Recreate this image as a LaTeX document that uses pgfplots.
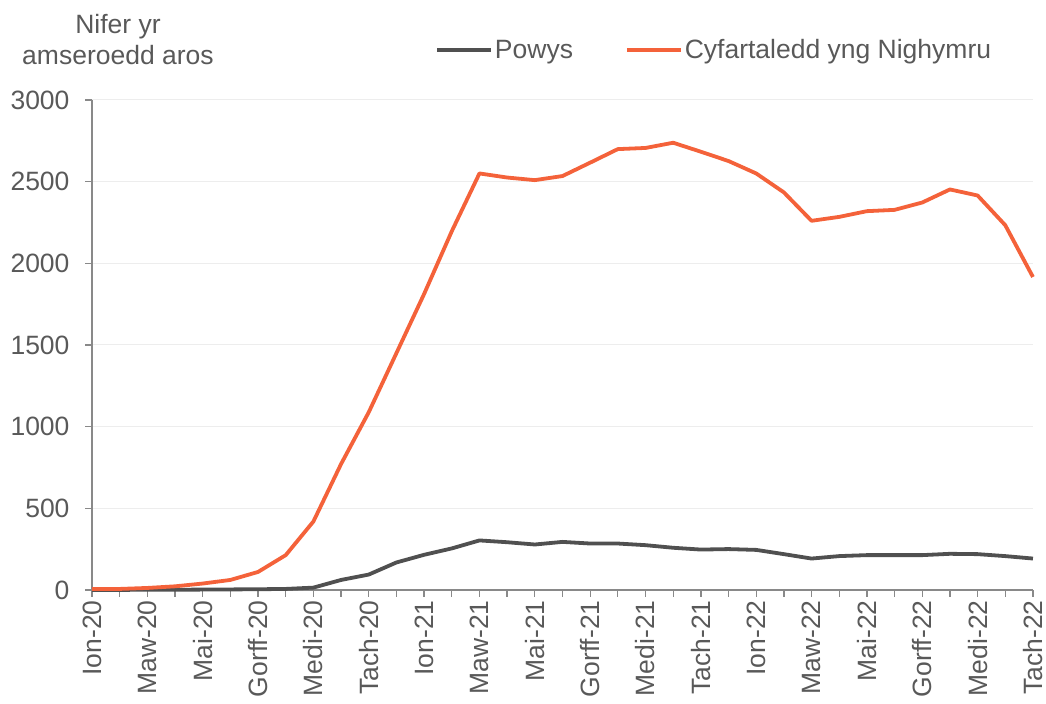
\documentclass[border=0pt]{standalone}
\usepackage{pgfplots}
\pgfplotsset{compat=1.18}
\usepackage{fontspec}
\setmainfont{Liberation Sans}
\definecolor{txt}{HTML}{595959}
\definecolor{axl}{HTML}{898989}
\definecolor{grd}{HTML}{EDEDED}
\definecolor{powys}{HTML}{505050}
\definecolor{cymru}{HTML}{F4623A}
\begin{document}
\begin{tikzpicture}
\begin{axis}[
  scale only axis,
  width=941pt, height=490pt,
  xmin=0, xmax=34, ymin=0, ymax=3000,
  axis x line*=bottom, axis y line*=left,
  axis line style={draw=axl, line width=1.3pt},
  every tick/.style={draw=axl, line width=1.3pt},
  tick align=outside, major tick length=7pt,
  xtick={0,...,34},
  xticklabels={Ion-20,,Maw-20,,Mai-20,,Gorff-20,,Medi-20,,Tach-20,,Ion-21,,Maw-21,,Mai-21,,Gorff-21,,Medi-21,,Tach-21,,Ion-22,,Maw-22,,Mai-22,,Gorff-22,,Medi-22,,Tach-22},
  ytick={0,500,...,3000},
  ymajorgrids, major grid style={draw=grd, line width=1pt},
  /pgf/number format/assume math mode=true,
  /pgf/number format/set thousands separator={},
  ticklabel style={font=\fontsize{26.5}{31}\selectfont, text=txt},
  xticklabel style={rotate=90, anchor=east},
  yticklabel style={xshift=-12pt},
  legend style={draw=none, fill=none, at={(rel axis cs:0.3645,1.102)}, anchor=west,
    font=\fontsize{26.5}{31}\selectfont, text=txt, inner sep=0pt,
    /tikz/every even column/.append style={column sep=50pt}},
  legend columns=2,
  legend image code/.code={\draw[#1] (0pt,0pt) -- (54pt,0pt);},
  clip=false,
]
\path (rel axis cs:-0.0978,-0.2327) rectangle (rel axis cs:1.0138,1.204);
\addplot[powys, line width=3.8pt, line join=round] coordinates {
(0,0)(1,0)(2,1)(3,1)(4,2)(5,3)(6,4)(7,6)(8,14)(9,61)(10,94)(11,168)(12,215)(13,254)(14,303)(15,292)(16,278)(17,294)(18,284)(19,284)(20,274)(21,258)(22,247)(23,250)(24,245)(25,219)(26,192)(27,207)(28,213)(29,213)(30,213)(31,221)(32,219)(33,207)(34,192)};
\addlegendentry{Powys}
\addplot[cymru, line width=3.8pt, line join=round] coordinates {
(0,5)(1,6)(2,12)(3,22)(4,39)(5,61)(6,110)(7,213)(8,419)(9,771)(10,1088)(11,1450)(12,1812)(13,2196)(14,2550)(15,2525)(16,2509)(17,2534)(18,2616)(19,2699)(20,2706)(21,2738)(22,2683)(23,2626)(24,2550)(25,2434)(26,2260)(27,2284)(28,2319)(29,2327)(30,2372)(31,2452)(32,2415)(33,2233)(34,1916)};
\addlegendentry{Cyfartaledd yng Nighymru}
\node[align=center, font=\fontsize{26.5}{31}\selectfont, text=txt] at (rel axis cs:0.0276,1.1224) {Nifer yr\\amseroedd aros};
\end{axis}
\end{tikzpicture}
\end{document}
